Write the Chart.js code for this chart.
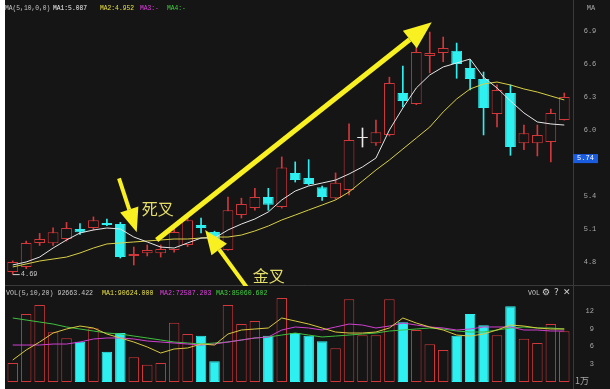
<!DOCTYPE html>
<html>
<head>
<meta charset="utf-8">
<script src="https://cdn.jsdelivr.net/npm/chart.js@4"></script>
<style>
  html, body { margin: 0; padding: 0; background: #fff; }
  #wrap { position: absolute; left: 5px; top: 0; width: 605px; height: 389px; background: #151515; }
  canvas { position: absolute; left: 0; }
</style>
</head>
<body>
<div id="wrap">
  <canvas id="kline" width="605" height="286" style="top:0"></canvas>
  <canvas id="volume" width="605" height="103" style="top:286px"></canvas>
</div>
<script>
// 日K数据
const days = ["1","2","3","4","5","6","7","8","9","10","11","12","13","14","15","16","17","18","19","20","21",
  "22","23","24","25","26","27","28","29","30","31","32","33","34","35","36","37","38","39","40","41","42"];
const opens = [4.709,4.755,4.973,4.97,5.01,5.10,5.11,5.155,5.145,4.855,4.88,4.88,4.909,4.955,5.136,5.073,4.91,5.227,5.29,5.39,5.30,
  5.61,5.564,5.48,5.38,5.455,5.927,5.88,5.955,6.336,6.236,6.673,6.70,6.72,6.564,6.464,6.145,6.336,5.88,5.88,5.89,6.09];
const highs = [4.81,4.99,5.06,5.11,5.16,5.15,5.21,5.19,5.16,4.936,4.955,4.955,5.136,5.20,5.20,5.08,5.39,5.38,5.47,5.47,5.755,
  5.71,5.73,5.49,5.61,6.055,6.018,6.09,6.48,6.58,6.80,6.89,6.845,6.79,6.636,6.527,6.41,6.41,6.045,6.045,6.19,6.336];
const lows = [4.69,4.74,4.95,4.95,4.99,5.05,5.09,5.13,4.836,4.773,4.855,4.845,4.89,4.94,5.064,4.94,4.905,5.20,5.27,5.27,5.29,
  5.527,5.50,5.36,5.37,5.41,5.845,5.86,5.945,6.21,6.23,6.52,6.62,6.47,6.364,5.955,6.027,5.77,5.82,5.764,5.71,6.09];
const closes = [4.80,4.973,5.01,5.07,5.11,5.07,5.18,5.136,4.845,4.873,4.91,4.918,5.073,5.18,5.11,4.955,5.27,5.327,5.39,5.32,5.66,
  5.545,5.51,5.39,5.52,5.91,5.927,5.98,6.427,6.264,6.71,6.70,6.745,6.60,6.464,6.20,6.364,5.845,5.97,5.955,6.155,6.30];

// 均线 MA5 / MA10
const ma5 = [4.773,4.800,4.845,4.927,5.000,5.064,5.091,5.109,5.100,5.027,4.982,4.936,4.927,4.973,5.018,5.018,5.091,5.145,5.191,5.255,5.364,
  5.445,5.491,5.518,5.545,5.600,5.664,5.745,6.000,6.200,6.382,6.500,6.573,6.609,6.645,6.480,6.382,6.264,6.155,6.073,6.055,6.045];
const ma10 = [4.755,4.782,4.809,4.827,4.845,4.882,4.927,4.964,4.973,4.982,4.991,5.000,5.009,5.009,5.018,5.027,5.027,5.045,5.082,5.127,5.182,
  5.227,5.273,5.318,5.364,5.436,5.536,5.636,5.727,5.827,5.927,6.027,6.164,6.282,6.373,6.418,6.436,6.409,6.373,6.345,6.309,6.273];

// 成交量（万）
const vols = [3.2,11.5,13.0,8.4,7.4,6.8,9.1,5.1,8.3,4.2,2.9,3.2,10.0,8.1,7.8,3.5,13.0,9.8,10.3,7.8,14.2,
  8.3,7.8,6.9,5.7,14.0,7.9,7.9,14.0,10.1,8.8,6.4,5.4,7.8,11.5,9.6,7.9,12.8,7.3,6.6,9.8,8.6];
const volMa1 = [3.72,5.41,6.76,8.28,8.96,9.46,9.13,8.11,7.44,6.76,5.92,4.90,5.58,5.75,6.42,6.25,8.11,8.79,8.96,9.13,10.82,
  10.31,9.80,9.13,8.45,8.28,8.28,8.45,9.13,10.82,9.97,9.30,8.79,7.94,7.77,8.11,8.79,9.63,9.46,9.13,8.96,8.96];
const volMa2 = [6.25,6.25,6.25,6.42,6.42,6.76,7.27,7.44,7.44,7.27,6.93,6.76,6.59,6.42,6.25,6.42,6.76,7.10,7.44,7.61,8.79,
  9.30,9.13,8.79,9.30,9.80,9.63,9.13,9.46,9.97,9.63,9.30,9.13,8.79,8.96,9.30,9.30,9.30,8.79,8.79,8.62,8.62];
const volMa3 = [10.82,10.48,10.14,9.80,9.30,8.96,8.62,8.28,8.11,7.77,7.44,7.10,6.76,6.59,6.42,6.59,6.76,7.10,7.44,7.61,7.94,
  8.28,7.94,7.61,7.77,7.94,8.11,8.28,8.62,8.79,8.96,9.13,8.96,8.62,8.45,8.45,8.79,9.13,9.30,9.13,9.13,8.96];

const priceTicks = [4.8, 5.1, 5.4, 6.0, 6.3, 6.6, 6.9];
const volTicks = [3, 6, 9, 12];
const lastPrice = 5.74;
const lowMark = 4.69;

const BG = "#151515";
const RED = "#d0383c";
const CYAN = "#2ef0f0";
const DOJI = "#e8e8e8";
const ARROW = "#f8f020";
const LABEL = "#a8a8a8";
const MONO = "'Liberation Mono', monospace";

const candleColor = opens.map((o, i) => (closes[i] > o ? RED : closes[i] < o ? CYAN : DOJI));
const volColor = candleColor.map((c) => (c === CYAN ? CYAN : RED));

function drawArrow(ctx, x1, y1, x2, y2, w, head, color) {
  const a = Math.atan2(y2 - y1, x2 - x1);
  const bx = x2 - Math.cos(a) * head;
  const by = y2 - Math.sin(a) * head;
  const hw = head * 0.4;
  ctx.save();
  ctx.strokeStyle = color;
  ctx.fillStyle = color;
  ctx.lineWidth = w;
  ctx.beginPath();
  ctx.moveTo(x1, y1);
  ctx.lineTo(bx, by);
  ctx.stroke();
  ctx.beginPath();
  ctx.moveTo(x2, y2);
  ctx.lineTo(bx + Math.sin(a) * hw, by - Math.cos(a) * hw);
  ctx.lineTo(bx - Math.sin(a) * hw, by + Math.cos(a) * hw);
  ctx.closePath();
  ctx.fill();
  ctx.restore();
}

function drawSegments(ctx, y, segs) {
  segs.forEach(([x, text, color]) => {
    ctx.fillStyle = color;
    ctx.fillText(text, x, y);
  });
}

// 标注：箭头与文字（数据坐标：序号, 价格）
const arrows = [
  { from: [10.7, 5.0], to: [31.15, 6.98], w: 5, head: 28 },
  { from: [7.9, 5.56], to: [9.22, 5.07], w: 4, head: 24 },
  { from: [17.4, 4.57], to: [14.3, 5.09], w: 4, head: 24 },
];
const notes = [
  { at: [10.78, 5.28], text: "死叉" },
  { at: [19.03, 4.673], text: "金叉" },
];

const klinePlugin = {
  id: "klineDecor",
  afterDraw(chart) {
    const ctx = chart.ctx;
    const x = chart.scales.x;
    const y = chart.scales.y;
    ctx.save();
    // 分隔线
    ctx.strokeStyle = "#3a3a3a";
    ctx.lineWidth = 1;
    ctx.beginPath();
    ctx.moveTo(568.5, 0);
    ctx.lineTo(568.5, 286);
    ctx.moveTo(0, 285.5);
    ctx.lineTo(605, 285.5);
    ctx.stroke();

    // 标题
    ctx.font = "6.3px " + MONO;
    ctx.textBaseline = "middle";
    ctx.textAlign = "left";
    drawSegments(ctx, 8, [
      [0, "MA(5,10,0,0)", "#c8c8c8"],
      [48, "MA1:5.087", "#f0f0f0"],
      [95, "MA2:4.952", "#e8e040"],
      [135, "MA3:-", "#e040e0"],
      [162, "MA4:-", "#40d040"],
    ]);
    ctx.font = "7px " + MONO;
    ctx.textAlign = "center";
    ctx.fillStyle = LABEL;
    ctx.fillText("MA", 586, 8);

    // 价格刻度
    priceTicks.forEach((t) => {
      ctx.fillText(t.toFixed(1), 585, y.getPixelForValue(t));
    });
    const py = y.getPixelForValue(lastPrice);
    ctx.fillStyle = "#1a5ce0";
    ctx.fillRect(568, py - 4.5, 25, 9);
    ctx.fillStyle = "#ffffff";
    ctx.fillText(lastPrice.toFixed(2), 580.5, py);

    // 最低价标记
    const lx = x.getPixelForValue(0);
    const ly = y.getPixelForValue(lowMark);
    ctx.strokeStyle = "#d0d0d0";
    ctx.beginPath();
    ctx.moveTo(lx, ly + 0.5);
    ctx.lineTo(lx + 7, ly + 0.5);
    ctx.stroke();
    ctx.textAlign = "left";
    ctx.fillStyle = "#c8c8c8";
    ctx.fillText(lowMark.toFixed(2), lx + 8, ly);

    // 箭头
    arrows.forEach((a) => {
      drawArrow(ctx,
        x.getPixelForValue(a.from[0]), y.getPixelForValue(a.from[1]),
        x.getPixelForValue(a.to[0]), y.getPixelForValue(a.to[1]),
        a.w, a.head, ARROW);
    });
    ctx.font = "16px 'Noto Sans CJK SC'";
    ctx.textAlign = "center";
    ctx.fillStyle = "#e6de6a";
    notes.forEach((n) => {
      ctx.fillText(n.text, x.getPixelForValue(n.at[0]), y.getPixelForValue(n.at[1]));
    });
    ctx.restore();
  },
};

const volumePlugin = {
  id: "volumeDecor",
  afterDraw(chart) {
    const ctx = chart.ctx;
    const y = chart.scales.y;
    ctx.save();
    ctx.strokeStyle = "#3a3a3a";
    ctx.lineWidth = 1;
    ctx.beginPath();
    ctx.moveTo(568.5, 0);
    ctx.lineTo(568.5, 103);
    ctx.stroke();

    ctx.font = "6.6px " + MONO;
    ctx.textBaseline = "middle";
    ctx.textAlign = "left";
    drawSegments(ctx, 7, [
      [1, "VOL(5,10,20) 92663.422", "#c8c8c8"],
      [97, "MA1:90624.000", "#e8e040"],
      [155, "MA2:72587.203", "#e040e0"],
      [211, "MA3:85060.602", "#40d040"],
      [523, "VOL", "#c8c8c8"],
    ]);
    ctx.font = "9px 'DejaVu Sans'";
    ctx.fillStyle = "#d0d0d0";
    ctx.fillText("⚙", 537, 7);
    ctx.fillText("?", 549, 7);
    ctx.fillText("✕", 558, 7);

    ctx.font = "7px " + MONO;
    ctx.textAlign = "right";
    ctx.fillStyle = LABEL;
    volTicks.forEach((t) => {
      ctx.fillText(String(t), 589, y.getPixelForValue(t));
    });
    ctx.textAlign = "left";
    ctx.font = "9px 'Noto Sans CJK SC'";
    ctx.fillText("1万", 570, 95);
    ctx.restore();
  },
};

const commonOptions = {
  responsive: false,
  animation: false,
  events: [],
  plugins: { legend: { display: false }, tooltip: { enabled: false } },
};

function lineSet(data, color, order) {
  return { type: "line", data, borderColor: color, borderWidth: 1, pointRadius: 0, tension: 0, order };
}

new Chart(document.getElementById("kline"), {
  type: "bar",
  data: {
    labels: days,
    datasets: [
      lineSet(ma5, "#e6e6e6", 0),
      lineSet(ma10, "#d8d048", 0),
      {
        data: opens.map((o, i) => [o, closes[i]]),
        backgroundColor: candleColor.map((c) => (c === CYAN ? CYAN : BG)),
        borderColor: candleColor,
        borderWidth: 1,
        borderSkipped: false,
        minBarLength: 1,
        barPercentage: 0.8,
        categoryPercentage: 1,
        grouped: false,
        order: 1,
      },
      {
        data: lows.map((l, i) => [l, highs[i]]),
        backgroundColor: candleColor,
        borderWidth: 0,
        barThickness: 1,
        grouped: false,
        order: 2,
      },
    ],
  },
  options: {
    ...commonOptions,
    layout: { padding: { left: 1, right: 39, top: 18, bottom: 2 } },
    scales: {
      x: { display: false, offset: true },
      y: { display: false, min: 4.6, max: 7.018 },
    },
  },
  plugins: [klinePlugin],
});

new Chart(document.getElementById("volume"), {
  type: "bar",
  data: {
    labels: days,
    datasets: [
      lineSet(volMa1, "#d8c840", 0),
      lineSet(volMa2, "#d040d0", 0),
      lineSet(volMa3, "#40c040", 0),
      {
        data: vols,
        backgroundColor: volColor.map((c) => (c === CYAN ? CYAN : BG)),
        borderColor: volColor,
        borderWidth: 1,
        borderSkipped: false,
        barPercentage: 0.78,
        categoryPercentage: 1,
        order: 1,
      },
    ],
  },
  options: {
    ...commonOptions,
    layout: { padding: { left: 1, right: 39, top: 11, bottom: 7 } },
    scales: {
      x: { display: false, offset: true },
      y: { display: false, min: 0, max: 14.37 },
    },
  },
  plugins: [volumePlugin],
});
</script>
</body>
</html>
